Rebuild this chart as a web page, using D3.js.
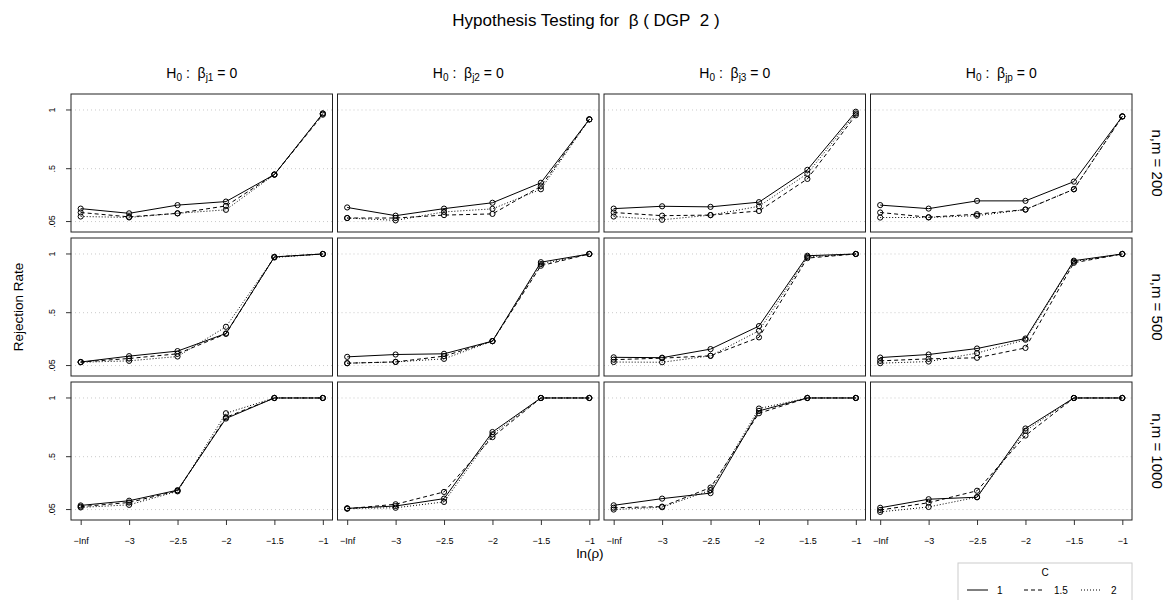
<!DOCTYPE html>
<html>
<head>
<meta charset="utf-8">
<script src="https://cdn.jsdelivr.net/npm/d3@7"></script>
<style>
  body { margin: 0; background: #fff; }
  svg { font-family: "Liberation Sans", Arial, sans-serif; }
</style>
</head>
<body>
<div id="chart"></div>
<script>
// x categories (ln rho) and the C levels
var xLabels = ["\u2212Inf", "\u22123", "\u22122.5", "\u22122", "\u22121.5", "\u22121"];
var cLevels = ["1", "1.5", "2"];
var cDash = ["none", "4,3", "1,2"];
var colSubs = ["j1", "j2", "j3", "jp"];
var rowLabels = ["n,m\u00a0=\u00a0200", "n,m\u00a0=\u00a0500", "n,m\u00a0=\u00a01000"];
var yTicks = [0.05, 0.5, 1];
var yTickLabels = [".05", ".5", "1"];

// rejection rates, one array per row (n,m) and C level; inner arrays = columns j1, j2, j3, jp
var n200_c1 = [
  [0.16, 0.12, 0.19, 0.22, 0.45, 0.97],
  [0.17, 0.10, 0.16, 0.21, 0.38, 0.92],
  [0.16, 0.18, 0.175, 0.215, 0.49, 0.985],
  [0.19, 0.16, 0.226, 0.226, 0.39, 0.945]
];
var n200_c15 = [
  [0.127, 0.09, 0.12, 0.183, 0.45, 0.96],
  [0.08, 0.08, 0.105, 0.115, 0.35, 0.92],
  [0.127, 0.10, 0.105, 0.14, 0.413, 0.955],
  [0.127, 0.087, 0.113, 0.152, 0.325, 0.945]
];
var n200_c2 = [
  [0.093, 0.085, 0.12, 0.15, 0.45, 0.97],
  [0.08, 0.06, 0.132, 0.158, 0.325, 0.92],
  [0.093, 0.065, 0.105, 0.18, 0.458, 0.97],
  [0.084, 0.085, 0.10, 0.152, 0.325, 0.945]
];
var n500_c1 = [
  [0.08, 0.13, 0.173, 0.323, 0.975, 1.0],
  [0.124, 0.144, 0.15, 0.258, 0.93, 1.0],
  [0.12, 0.117, 0.19, 0.386, 0.985, 1.0],
  [0.118, 0.144, 0.195, 0.28, 0.943, 1.0]
];
var n500_c15 = [
  [0.08, 0.11, 0.15, 0.32, 0.975, 1.0],
  [0.07, 0.081, 0.13, 0.258, 0.90, 1.0],
  [0.10, 0.113, 0.133, 0.29, 0.965, 1.0],
  [0.09, 0.107, 0.116, 0.20, 0.925, 1.0]
];
var n500_c2 = [
  [0.078, 0.09, 0.127, 0.38, 0.97, 1.0],
  [0.07, 0.081, 0.107, 0.258, 0.914, 1.0],
  [0.08, 0.078, 0.133, 0.346, 0.975, 1.0],
  [0.07, 0.084, 0.156, 0.27, 0.935, 1.0]
];
var n1000_c1 = [
  [0.085, 0.125, 0.215, 0.825, 1.0, 1.0],
  [0.06, 0.08, 0.143, 0.71, 1.0, 1.0],
  [0.086, 0.143, 0.19, 0.89, 1.0, 1.0],
  [0.065, 0.138, 0.155, 0.74, 1.0, 1.0]
];
var n1000_c15 = [
  [0.075, 0.11, 0.21, 0.835, 1.0, 1.0],
  [0.057, 0.095, 0.20, 0.667, 1.0, 1.0],
  [0.065, 0.075, 0.237, 0.87, 1.0, 1.0],
  [0.046, 0.108, 0.21, 0.68, 1.0, 1.0]
];
var n1000_c2 = [
  [0.068, 0.09, 0.205, 0.87, 1.0, 1.0],
  [0.06, 0.065, 0.115, 0.69, 1.0, 1.0],
  [0.05, 0.07, 0.215, 0.91, 1.0, 1.0],
  [0.03, 0.072, 0.155, 0.72, 1.0, 1.0]
];
var rows = [
  [n200_c1, n200_c15, n200_c2],
  [n500_c1, n500_c15, n500_c2],
  [n1000_c1, n1000_c15, n1000_c2]
];

var width = 1173, height = 600;
var panelW = 261.5, panelH = 138, gapX = 5, gapY = 6;
var marginLeft = 71, marginTop = 94;

var svg = d3.select("#chart").append("svg")
  .attr("width", width)
  .attr("height", height);

var x = d3.scalePoint()
  .domain(xLabels)
  .range([0, panelW])
  .padding(0.2);

var y = d3.scaleLinear()
  .domain([-0.039, 1.136])
  .range([panelH, 0]);

var line = d3.line()
  .x(function (d, i) { return x(xLabels[i]); })
  .y(function (d) { return y(d); });

// title
var title = svg.append("text")
  .attr("x", 586).attr("y", 26)
  .attr("text-anchor", "middle")
  .style("font-size", "17px");
title.append("tspan").text("Hypothesis Testing for\u00a0\u00a0\u03b2\u00a0(\u00a0DGP\u00a0\u00a02\u00a0)");

// column headers
colSubs.forEach(function (s, c) {
  var t = svg.append("text")
    .attr("x", marginLeft + c * (panelW + gapX) + panelW / 2)
    .attr("y", 78)
    .attr("text-anchor", "middle")
    .style("font-size", "14px");
  t.append("tspan").text("H");
  t.append("tspan").attr("dy", 3).style("font-size", "10px").text("0");
  t.append("tspan").attr("dy", -3).text("\u00a0:\u00a0\u00a0\u03b2");
  t.append("tspan").attr("dy", 3).style("font-size", "10px").text(s);
  t.append("tspan").attr("dy", -3).text("\u00a0=\u00a00");
});

rows.forEach(function (series, r) {
  var py = marginTop + r * (panelH + gapY);
  for (var c = 0; c < 4; c++) {
    var px = marginLeft + c * (panelW + gapX);
    var g = svg.append("g").attr("transform", "translate(" + px + "," + py + ")");

    g.selectAll("line.grid")
      .data(yTicks)
      .enter().append("line")
      .attr("class", "grid")
      .attr("x1", 0).attr("x2", panelW)
      .attr("y1", function (d) { return y(d); })
      .attr("y2", function (d) { return y(d); })
      .attr("stroke", "#bbb")
      .attr("stroke-width", 0.8)
      .attr("stroke-dasharray", "1,3");

    series.forEach(function (s, k) {
      g.append("path")
        .datum(s[c])
        .attr("d", line)
        .attr("fill", "none")
        .attr("stroke", "#000")
        .attr("stroke-width", 1)
        .attr("stroke-dasharray", cDash[k]);
      g.selectAll("circle.c" + k)
        .data(s[c])
        .enter().append("circle")
        .attr("class", "c" + k)
        .attr("cx", function (d, i) { return x(xLabels[i]); })
        .attr("cy", function (d) { return y(d); })
        .attr("r", 2.6)
        .attr("fill", "none")
        .attr("stroke", "#000")
        .attr("stroke-width", 1);
    });

    g.append("rect")
      .attr("width", panelW).attr("height", panelH)
      .attr("fill", "none")
      .attr("stroke", "#222")
      .attr("stroke-width", 1);

    // y axis on the first column
    if (c === 0) {
      g.selectAll("line.yt")
        .data(yTicks)
        .enter().append("line")
        .attr("x1", -5).attr("x2", 0)
        .attr("y1", function (d) { return y(d); })
        .attr("y2", function (d) { return y(d); })
        .attr("stroke", "#333");
      g.selectAll("text.yl")
        .data(yTicks)
        .enter().append("text")
        .attr("transform", function (d) { return "translate(-16," + y(d) + ") rotate(-90)"; })
        .attr("text-anchor", "middle")
        .style("font-size", "9px")
        .text(function (d, i) { return yTickLabels[i]; });
    }
    // x axis on the bottom row
    if (r === rows.length - 1) {
      var xa = g.append("g")
        .attr("transform", "translate(0," + panelH + ")")
        .call(d3.axisBottom(x).tickSize(5).tickPadding(13));
      xa.select(".domain").remove();
      xa.selectAll("line").attr("stroke", "#333");
      xa.selectAll("text").style("font-size", "9px").style("font-family", "Liberation Sans, Arial, sans-serif");
    }
  }
  // strip label on the right
  svg.append("text")
    .attr("transform", "translate(1152," + (py + panelH / 2) + ") rotate(90)")
    .attr("text-anchor", "middle")
    .style("font-size", "15px")
    .text(rowLabels[r]);
});

// axis titles
svg.append("text")
  .attr("transform", "translate(23,307) rotate(-90)")
  .attr("text-anchor", "middle")
  .style("font-size", "13.5px")
  .text("Rejection Rate");

svg.append("text")
  .attr("x", 590).attr("y", 558)
  .attr("text-anchor", "middle")
  .style("font-size", "13.5px")
  .text("ln(\u03c1)");

// legend
var lg = svg.append("g").attr("transform", "translate(958,563)");
lg.append("rect")
  .attr("width", 174).attr("height", 45)
  .attr("fill", "#fff")
  .attr("stroke", "#ccc");
lg.append("text")
  .attr("x", 87).attr("y", 13)
  .attr("text-anchor", "middle")
  .style("font-size", "10px")
  .text("C");
cLevels.forEach(function (lv, k) {
  var ox = 9 + k * 57;
  lg.append("line")
    .attr("x1", ox).attr("x2", ox + 21)
    .attr("y1", 27).attr("y2", 27)
    .attr("stroke", "#000")
    .attr("stroke-dasharray", cDash[k]);
  lg.append("text")
    .attr("x", ox + 30).attr("y", 31)
    .style("font-size", "10px")
    .text(lv);
});
</script>
</body>
</html>
